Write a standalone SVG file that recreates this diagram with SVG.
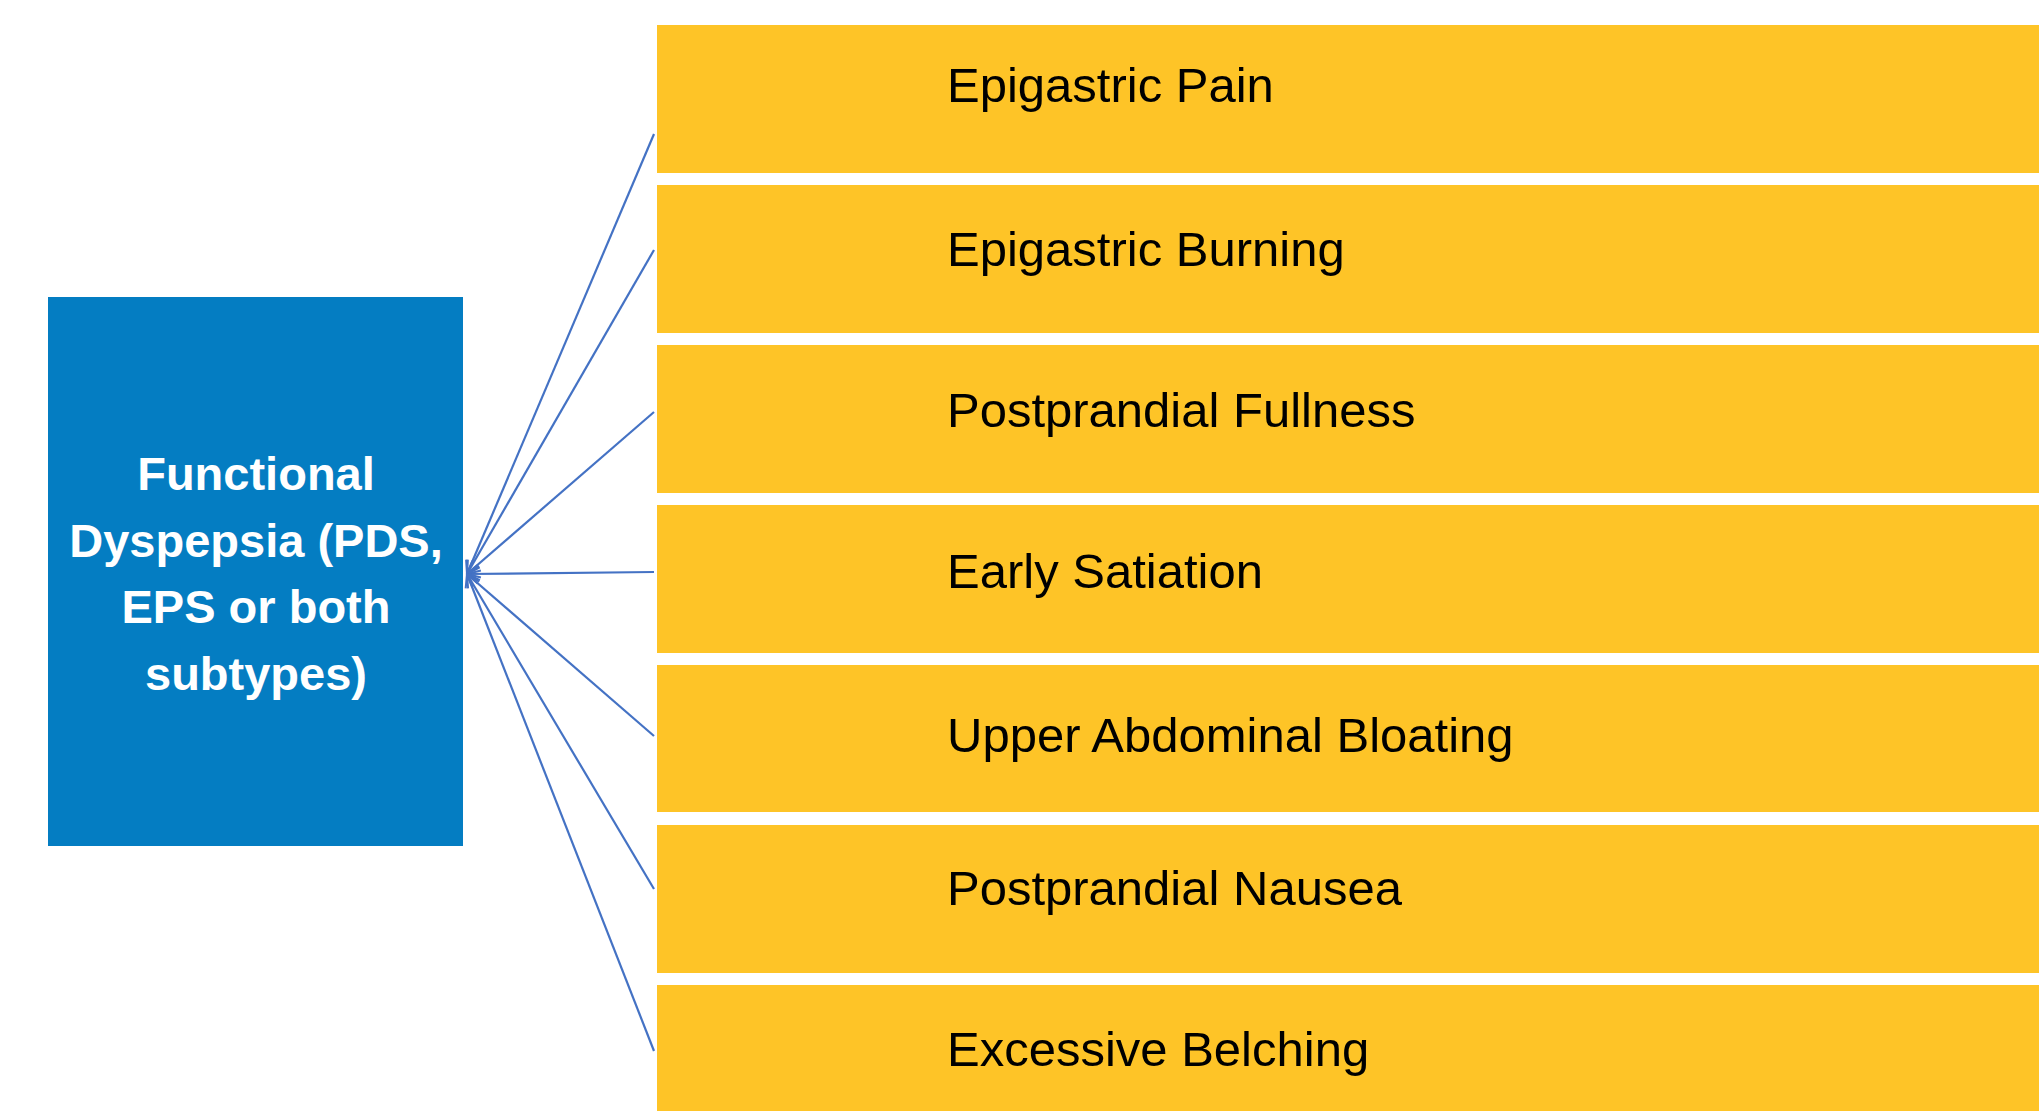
<svg xmlns="http://www.w3.org/2000/svg" width="2039" height="1111" viewBox="0 0 2039 1111">
<defs>
<style>
.bar{fill:#FEC427}
.lbl{font-family:"Liberation Sans",Arial,sans-serif;font-size:49px;fill:#000}
.main{font-family:"Liberation Sans",Arial,sans-serif;font-size:47px;font-weight:bold;fill:#fff;text-anchor:middle}
.conn{stroke:#4472C4;stroke-width:2.2;fill:none;marker-end:url(#arr)}
</style>
<marker id="arr" viewBox="0 0 12 12" refX="11" refY="6" markerWidth="7" markerHeight="7" orient="auto" markerUnits="strokeWidth">
<path d="M1,1 L11,6 L1,11" fill="none" stroke="#4472C4" stroke-width="1.6"/>
</marker>
</defs>
<rect width="2039" height="1111" fill="#fff"/>
<g id="main-node">
<rect x="48" y="297" width="415" height="549" fill="#047DC2"/>
<text class="main" x="256" y="490">Functional</text>
<text class="main" x="256" y="557">Dyspepsia (PDS,</text>
<text class="main" x="256" y="623">EPS or both</text>
<text class="main" x="256" y="690">subtypes)</text>
</g>
<g id="node-1"><rect class="bar" x="657" y="25" width="1382" height="148"/><text class="lbl" x="947" y="102">Epigastric Pain</text></g>
<g id="node-2"><rect class="bar" x="657" y="185" width="1382" height="148"/><text class="lbl" x="947" y="266">Epigastric Burning</text></g>
<g id="node-3"><rect class="bar" x="657" y="345" width="1382" height="148"/><text class="lbl" x="947" y="427">Postprandial Fullness</text></g>
<g id="node-4"><rect class="bar" x="657" y="505" width="1382" height="148"/><text class="lbl" x="947" y="588">Early Satiation</text></g>
<g id="node-5"><rect class="bar" x="657" y="665" width="1382" height="147"/><text class="lbl" x="947" y="752">Upper Abdominal Bloating</text></g>
<g id="node-6"><rect class="bar" x="657" y="825" width="1382" height="148"/><text class="lbl" x="947" y="905">Postprandial Nausea</text></g>
<g id="node-7"><rect class="bar" x="657" y="985" width="1382" height="148"/><text class="lbl" x="947" y="1066">Excessive Belching</text></g>
<g id="connectors">
<line class="conn" x1="654" y1="134" x2="467" y2="574"/>
<line class="conn" x1="654" y1="250" x2="467" y2="574"/>
<line class="conn" x1="654" y1="412" x2="467" y2="574"/>
<line class="conn" x1="654" y1="572" x2="467" y2="574"/>
<line class="conn" x1="654" y1="736" x2="467" y2="574"/>
<line class="conn" x1="654" y1="889" x2="467" y2="574"/>
<line class="conn" x1="654" y1="1051" x2="467" y2="574"/>
</g>
</svg>
